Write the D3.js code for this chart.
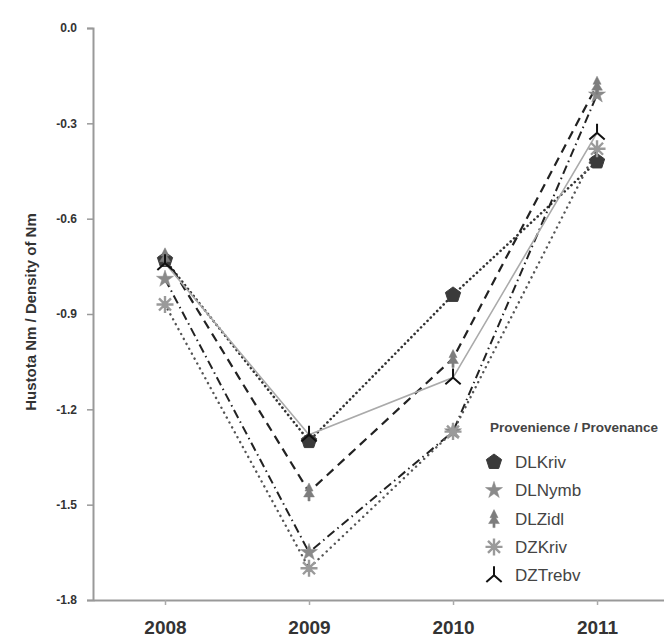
<!doctype html>
<html lang="en">
<head>
  <meta charset="utf-8">
  <title>Hustota Nm</title>
  <script src="https://d3js.org/d3.v7.min.js"></script>
  <style>
    body { margin: 0; background: #fff; }
    svg { font-family: "Liberation Sans", Arial, sans-serif; }
    .tick-label { font-weight: bold; fill: #333; }
  </style>
</head>
<body>
  <div id="chart"></div>
  <script>
// data
const years = [2008, 2009, 2010, 2011];
const names = ['DLKriv', 'DLNymb', 'DLZidl', 'DZKriv', 'DZTrebv'];
const dlKriv = [-0.73, -1.30, -0.84, -0.42];
const dlNymb = [-0.79, -1.65, -1.27, -0.21];
const dlZidl = [-0.72, -1.46, -1.04, -0.18];
const dzKriv = [-0.87, -1.70, -1.27, -0.38];
const dzTrebv = [-0.74, -1.28, -1.10, -0.33];
const yTicks = [0, -0.3, -0.6, -0.9, -1.2, -1.5, -1.8];

const width = 664, height = 644;

const svg = d3.select('#chart').append('svg')
  .attr('width', width)
  .attr('height', height);

const x = d3.scaleLinear().domain([2007.5, 2011.465]).range([93, 664]);
const y = d3.scaleLinear().domain([-1.8, 0]).range([600, 28]);

// y axis
const yAxis = svg.append('g').attr('transform', 'translate(93,0)')
  .call(d3.axisLeft(y).tickValues(yTicks).tickFormat(d => d.toFixed(1)).tickSize(6).tickPadding(10));
yAxis.select('.domain').attr('stroke', '#999').attr('stroke-width', 2);
yAxis.selectAll('.tick line').attr('stroke', '#999').attr('stroke-width', 1.5);
yAxis.selectAll('.tick text').attr('class', 'tick-label').style('font-size', '12px');

// x axis
const xAxis = svg.append('g').attr('transform', 'translate(0,600)')
  .call(d3.axisBottom(x).tickValues(years).tickFormat(d3.format('d')).tickSize(5).tickPadding(16).tickSizeOuter(0));
xAxis.select('.domain').attr('stroke', '#999').attr('stroke-width', 2);
xAxis.selectAll('.tick line').attr('stroke', '#aaa').attr('stroke-width', 1.5);
xAxis.selectAll('.tick text').attr('class', 'tick-label').style('font-size', '19px');

svg.append('text')
  .attr('transform', 'translate(36,312) rotate(-90)')
  .attr('text-anchor', 'middle')
  .style('font-size', '15px').style('font-weight', 'bold').attr('fill', '#333')
  .text('Hustota Nm / Density of Nm');

// marker shapes
function pentagon(r) {
  const p = d3.range(5).map(i => {
    const a = -Math.PI / 2 + i * 2 * Math.PI / 5;
    return [r * Math.cos(a), r * Math.sin(a)];
  });
  return 'M' + p.join('L') + 'Z';
}
function tree(r) {
  return `M0,${-r}L${r * 0.45},${-r * 0.1}L${r * 0.2},${-r * 0.1}L${r * 0.6},${r * 0.55}` +
    `L${r * 0.12},${r * 0.55}L${r * 0.12},${r}L${-r * 0.12},${r}L${-r * 0.12},${r * 0.55}` +
    `L${-r * 0.6},${r * 0.55}L${-r * 0.2},${-r * 0.1}L${-r * 0.45},${-r * 0.1}Z`;
}
function asterisk(r) {
  return d3.range(8).map(i => {
    const a = i * Math.PI / 4;
    return `M0,0L${r * Math.cos(a)},${r * Math.sin(a)}`;
  }).join('');
}
function ySymbol(r) {
  return `M0,${-r}L0,0L${-r * 0.85},${r * 0.75}M0,0L${r * 0.85},${r * 0.75}`;
}

const series = [
  { name: names[0], values: dlKriv, dash: '0.1 4.5', color: '#333', width: 2.6, cap: 'round',
    marker: { d: pentagon(8), fill: '#3a3a3a', stroke: '#3a3a3a', sw: 1 } },
  { name: names[1], values: dlNymb, dash: '9 4 1.5 4', color: '#222', width: 2, cap: 'butt',
    marker: { d: d3.symbol(d3.symbolStar, 90)(), fill: '#8a8a8a', stroke: '#8a8a8a', sw: 0.5 } },
  { name: names[2], values: dlZidl, dash: '9 6', color: '#222', width: 2.2, cap: 'butt',
    marker: { d: tree(9), fill: '#7d7d7d', stroke: '#7d7d7d', sw: 0.5 } },
  { name: names[3], values: dzKriv, dash: '0.1 5.5', color: '#555', width: 2.4, cap: 'round',
    marker: { d: asterisk(8.5), fill: 'none', stroke: '#9a9a9a', sw: 2.4 } },
  { name: names[4], values: dzTrebv, dash: null, color: '#aaa', width: 1.6, cap: 'butt',
    marker: { d: ySymbol(9), fill: 'none', stroke: '#111', sw: 2 } }
];

const line = d3.line().x((d, i) => x(years[i])).y(d => y(d));

const lines = svg.append('g');
series.forEach(s => {
  lines.append('path')
    .attr('d', line(s.values))
    .attr('fill', 'none')
    .attr('stroke', s.color)
    .attr('stroke-width', s.width)
    .attr('stroke-linecap', s.cap)
    .attr('stroke-dasharray', s.dash);
});

const marks = svg.append('g');
series.forEach(s => {
  marks.selectAll(null)
    .data(s.values)
    .join('path')
    .attr('transform', (d, i) => `translate(${x(years[i])},${y(d)})`)
    .attr('d', s.marker.d)
    .attr('fill', s.marker.fill)
    .attr('stroke', s.marker.stroke)
    .attr('stroke-width', s.marker.sw);
});

// legend
const legend = svg.append('g').attr('transform', 'translate(490,428)');
legend.append('text')
  .attr('x', 0).attr('y', 4)
  .style('font-size', '13.5px').style('font-weight', 'bold').attr('fill', '#444')
  .text('Provenience / Provenance');
series.forEach((s, i) => {
  const g = legend.append('g').attr('transform', `translate(4,${34 + i * 28.3})`);
  g.append('path')
    .attr('d', s.marker.d)
    .attr('fill', s.marker.fill)
    .attr('stroke', s.marker.stroke)
    .attr('stroke-width', s.marker.sw);
  g.append('text')
    .attr('x', 21).attr('y', 6)
    .style('font-size', '17px').attr('fill', '#444')
    .text(s.name);
});
  </script>
</body>
</html>
